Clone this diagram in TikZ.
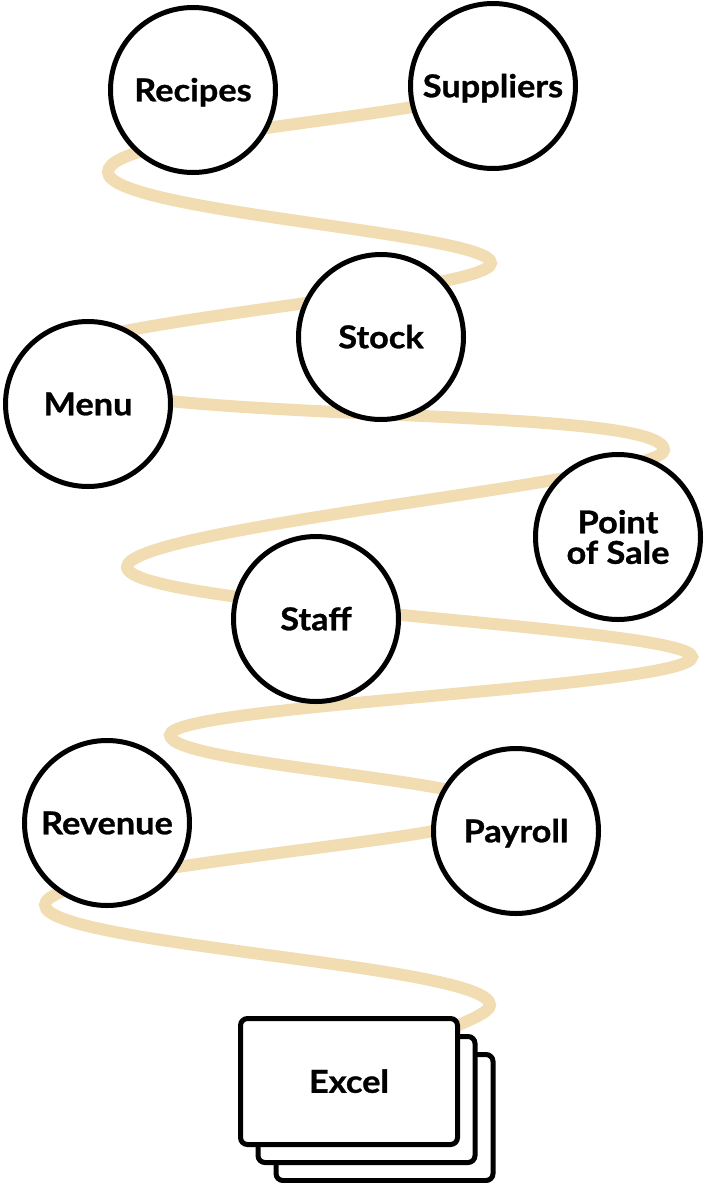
\documentclass[tikz,border=0pt]{standalone}
\usepackage{fontspec}
\setmainfont{Lato}[FakeStretch=1.09,BoldFeatures={FakeBold=0.9}]
\usetikzlibrary{backgrounds}
\definecolor{coilcol}{RGB}{242,220,178}
\begin{document}
\begin{tikzpicture}[x=1pt,y=-1pt,
  topic/.style={circle,draw=black,line width=5pt,fill=white,minimum size=165pt,inner sep=0pt,
    font=\fontsize{31.5}{31.5}\selectfont\bfseries,text height=22.5pt,text depth=0pt},
  card/.style={draw=black,line width=5pt,fill=white,rounded corners=7pt,
    minimum width=217pt,minimum height=126pt,inner sep=0pt,
    font=\fontsize{31.5}{31.5}\selectfont\bfseries,text height=22.5pt,text depth=0pt},
  coil/.style={draw=coilcol,line width=12pt,line cap=round}]
\useasboundingbox (0,0) rectangle (704,1183);

% circles
\node[topic] (recipes)   at (193,90)  {Recipes};
\node[topic] (suppliers) at (493,86)  {Suppliers};
\node[topic] (stock)     at (381,337) {Stock};
\node[topic] (menu)      at (88,404)  {Menu};
\node[topic,align=center,text height=,text depth=] (pos) at (618,537) {Point\\[-1pt]of Sale};
\node[topic] (staff)     at (316,619) {Staff};
\node[topic] (revenue)   at (107,823) {Revenue};
\node[topic] (payroll)   at (516,831) {Payroll};

% stacked cards
\node[card] (excel3) at (384.5,1117.5) {};
\node[card] (excel2) at (366.5,1099.5) {};
\node[card] (excel)  at (349,1081.5) {Excel};

% turning points of the coil
\coordinate (t1)  at (108,172);
\coordinate (t2)  at (491,263);
\coordinate (t3)  at (40,362);
\coordinate (t4)  at (664,450);
\coordinate (t5)  at (127,567);
\coordinate (t6)  at (692,657);
\coordinate (t7)  at (170,735);
\coordinate (t8)  at (500,810);
\coordinate (t9)  at (45,905);
\coordinate (t10) at (490,1005);

\begin{scope}[on background layer]
\draw[coil] (suppliers.center)
  .. controls (440,118) and +(0,-40) .. (t1)
  .. controls +(0,40) and +(0,-30) .. (t2)
  .. controls +(0,30) and +(0,-40) .. (t3)
  .. controls +(0,68) and +(0,-50) .. (t4)
  .. controls +(0,30) and +(0,-40) .. (t5)
  .. controls +(0,40) and +(0,-30) .. (t6)
  .. controls +(0,30) and +(0,-30) .. (t7)
  .. controls +(0,30) and +(0,-30) .. (t8)
  .. controls +(0,30) and +(0,-40) .. (t9)
  .. controls +(0,40) and +(0,-40) .. (t10)
  .. controls +(0,15) and (400,1040) .. (excel.center);
\end{scope}
\end{tikzpicture}
\end{document}
